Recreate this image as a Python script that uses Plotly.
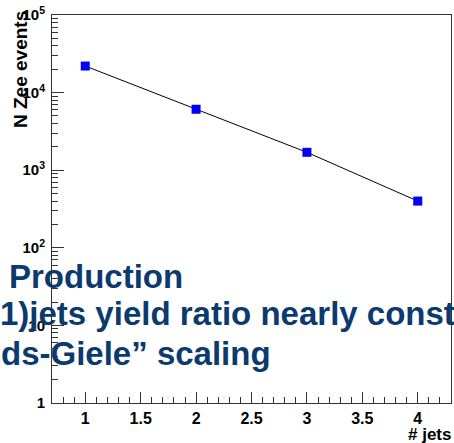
import plotly.graph_objects as go

# Z->ee event yields versus jet multiplicity
n_jets = [1, 2, 3, 4]
n_events = [22000, 6100, 1700, 400]

y_tick_vals = [1, 10, 100, 1000, 10000, 100000]
y_tick_text = ["1", "10", "10<sup>2</sup>", "10<sup>3</sup>", "10<sup>4</sup>", "10<sup>5</sup>"]

overlay_lines = [
    "Production",
    "1)jets yield ratio nearly const",
    "ds-Giele\u201d scaling",
]

W, H = 454, 443
ML, MR, MT, MB = 52, 3, 15, 40
PW, PH = W - ML - MR, H - MT - MB


def px_x(px):
    return (px - ML) / PW


def px_y(py):
    return (H - MB - py) / PH


bold = dict(family="Liberation Sans, Arial, sans-serif", weight="bold", color="black")

fig = go.Figure()
fig.add_trace(go.Scatter(
    x=n_jets, y=n_events,
    mode="lines+markers",
    line=dict(color="black", width=1),
    marker=dict(symbol="square", size=9, color="#0000ff", line=dict(width=0)),
    showlegend=False,
))

axis_common = dict(
    showline=True, linecolor="#333333", linewidth=1, mirror=True,
    showgrid=False, zeroline=False, automargin=False,
    ticks="inside", tickcolor="#333333", tickwidth=1,
)

# log-axis minor ticks at 2..9 within each decade
log_minor = [m * 10 ** k for k in range(5) for m in range(2, 10)]

fig.update_xaxes(
    range=[0.7, 4.3],
    tickmode="linear", tick0=0, dtick=0.5,
    ticklen=11,
    ticklabelstandoff=1,
    tickfont=dict(size=16, **bold),
    minor=dict(ticks="inside", tickmode="linear", tick0=0, dtick=0.1,
               ticklen=6, tickcolor="#333333", tickwidth=1, showgrid=False),
    **axis_common,
)
fig.update_yaxes(
    type="log",
    range=[0, 5],
    tickmode="array", tickvals=y_tick_vals, ticktext=y_tick_text,
    ticklen=12,
    ticklabelstandoff=3,
    tickfont=dict(size=15, **bold),
    minor=dict(ticks="inside", tickmode="array", tickvals=log_minor,
               ticklen=6, tickcolor="#333333", tickwidth=1, showgrid=False),
    **axis_common,
)

annotations = [
    dict(text="# jets", x=px_x(453), y=px_y(434), xanchor="right", yanchor="middle",
         font=dict(size=17, **bold)),
    dict(text="N Zee events", x=px_x(20), y=px_y(70), xanchor="center", yanchor="middle",
         textangle=-90, font=dict(size=19, **bold)),
]

# slide-style overlay text lines
blue = "#0b3a6e"
line_specs = [(7, 276), (-2, 313), (-1, 353)]
for txt, (lx, cy) in zip(overlay_lines, line_specs):
    annotations.append(dict(
        text=txt, x=px_x(lx), y=px_y(cy), xanchor="left", yanchor="middle",
        font=dict(family="Liberation Sans, Arial, sans-serif", size=33, weight="bold", color=blue),
    ))

for a in annotations:
    a.update(xref="paper", yref="paper", showarrow=False)

fig.update_layout(
    width=W, height=H,
    margin=dict(l=ML, r=MR, t=MT, b=MB, pad=0, autoexpand=False),
    paper_bgcolor="white", plot_bgcolor="white",
    annotations=annotations,
)

fig.write_html("out.html")
